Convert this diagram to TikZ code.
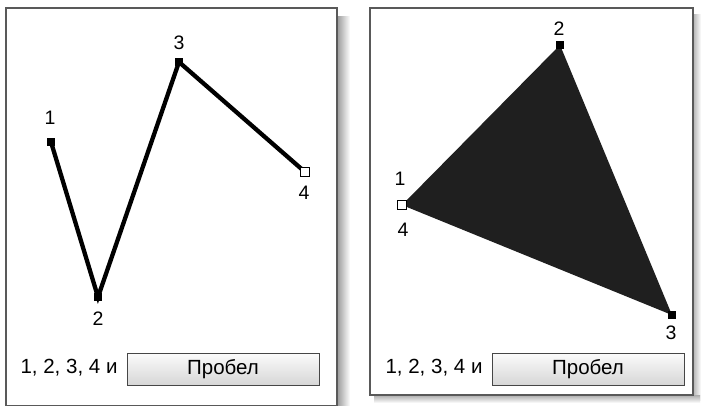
\documentclass[tikz,border=0pt]{standalone}
\usepackage{fontspec}
\setmainfont{Liberation Sans}
\begin{document}
\begin{tikzpicture}[x=1pt,y=-1pt,
  panel/.style={draw=gray!70!black, line width=1.3pt, fill=white},
  vtx/.style={rectangle, fill=black, minimum size=8.5pt, inner sep=0pt},
  vtxopen/.style={rectangle, draw=black, fill=white, line width=1.4pt, minimum size=8.5pt, inner sep=0pt},
  lbl/.style={font=\fontsize{19.5}{22}\selectfont, inner sep=0pt},
  caption/.style={font=\fontsize{20.5}{23}\selectfont, inner sep=0pt},
  btn/.style={draw=gray!55!black, line width=1pt, top color=gray!3, bottom color=gray!32, minimum width=192pt, minimum height=32pt, inner sep=0pt, font=\fontsize{20.5}{23}\selectfont},
  polyline/.style={line width=4.3pt, line join=miter}]
\useasboundingbox (0,0) rectangle (702,405);
\fill[white] (0,0) rectangle (702,405);
% shadows
\shade[left color=gray!80, right color=white] (337,16) rectangle (350,405);
\shade[left color=gray!60, right color=white] (693,14) rectangle (701,400);
\shade[top color=gray!65, bottom color=white] (374,395) rectangle (700,403);
% panels
\draw[panel] (6,8) rectangle (337,406);
\draw[panel] (370,8) rectangle (693,395);
% left panel
\node[vtx] (l1) at (51,142) {};
\node[vtx] (l2) at (98,297) {};
\node[vtx] (l3) at (179,62) {};
\node[vtxopen] (l4) at (305,172) {};
\draw[polyline] (l1.center) -- (l2.center) -- (l3.center) -- (l4.center);
\node[vtx] at (l1) {};
\node[vtx] at (l2) {};
\node[vtx] at (l3) {};
\node[vtxopen] at (l4) {};
\node[lbl] (t1) at (50,118) {1};
\node[lbl] (t2) at (98,319) {2};
\node[lbl] (t3) at (179,43) {3};
\node[lbl] (t4) at (304,193) {4};
\node[caption] (capl) at (69,368) {1, 2, 3, 4 и};
\node[btn] (btnl) at (223,369) {Пробел};
% right panel
\node[vtxopen] (r1) at (402,205) {};
\node[vtx] (r2) at (560,45) {};
\node[vtx] (r3) at (672,315) {};
\fill[black!88] (r1.center) -- (r2.center) -- (r3.center) -- cycle;
\node[vtx] at (r2) {};
\node[vtx] at (r3) {};
\node[vtxopen] at (r1) {};
\node[lbl] (s1) at (400,179) {1};
\node[lbl] (s4) at (403,230) {4};
\node[lbl] (s2) at (559,29) {2};
\node[lbl] (s3) at (671,333) {3};
\node[caption] (capr) at (434,368) {1, 2, 3, 4 и};
\node[btn] (btnr) at (588,369) {Пробел};
\end{tikzpicture}
\end{document}
